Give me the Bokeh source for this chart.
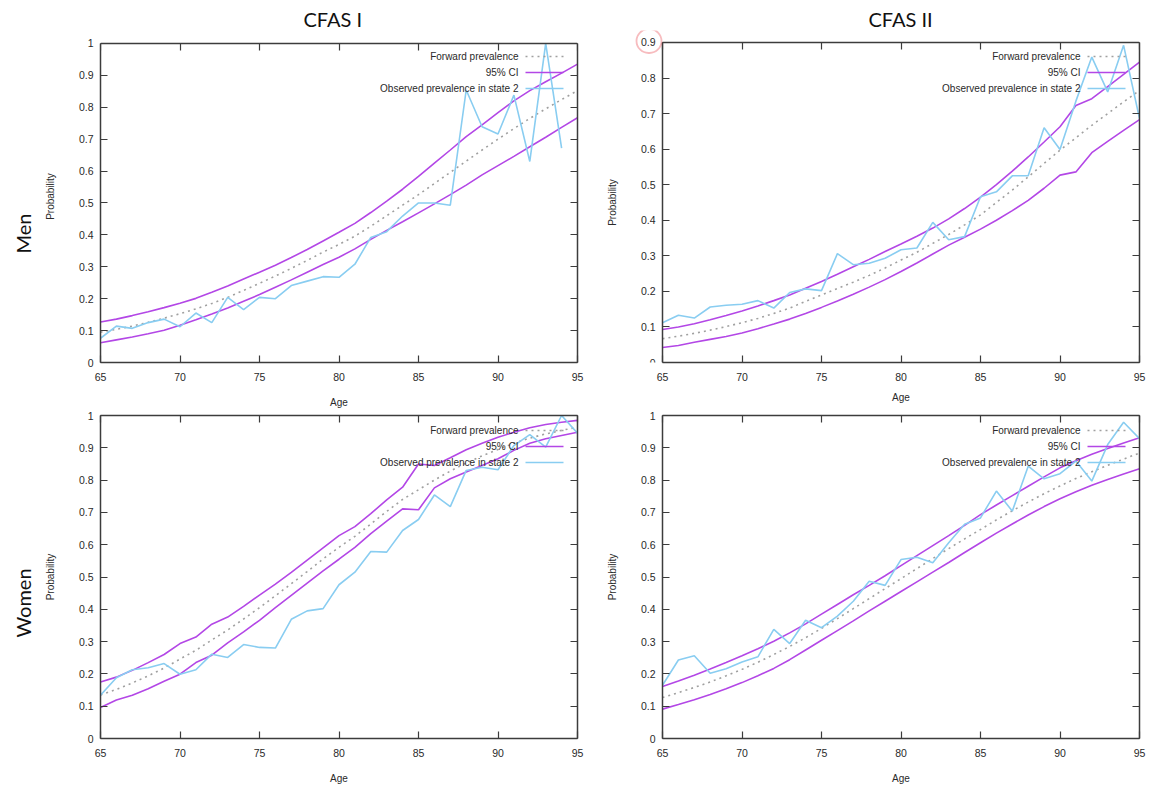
from bokeh.plotting import figure
from bokeh.layouts import column, row
from bokeh.models import (FixedTicker, LinearAxis, Range1d, Label, Arrow, Title,
                          BoxAnnotation, CustomJSTickFormatter)
from bokeh.embed import file_html
from bokeh.resources import INLINE

# ---------------------------------------------------------------- data
ages = [65, 66, 67, 68, 69, 70, 71, 72, 73, 74, 75, 76, 77, 78, 79, 80,
        81, 82, 83, 84, 85, 86, 87, 88, 89, 90, 91, 92, 93, 94, 95]
x_ticks = [65, 70, 75, 80, 85, 90, 95]
y_ticks_to_1 = [0, 0.1, 0.2, 0.3, 0.4, 0.5, 0.6, 0.7, 0.8, 0.9, 1.0]
y_ticks_to_09 = [0, 0.1, 0.2, 0.3, 0.4, 0.5, 0.6, 0.7, 0.8, 0.9]
legend_labels = ["Forward prevalence", "95% CI", "Observed prevalence in state 2"]
column_titles = ["CFAS I", "CFAS II"]
row_titles = ["Men", "Women"]
x_axis_label = "Age"
y_axis_label = "Probability"

# CFAS I, men
cfas1_men_forward = [0.095, 0.104, 0.114, 0.126, 0.139, 0.153, 0.168, 0.185, 0.204, 0.226,
                     0.248, 0.271, 0.295, 0.320, 0.346, 0.370, 0.396, 0.427, 0.460, 0.493,
                     0.526, 0.561, 0.596, 0.631, 0.666, 0.700, 0.733, 0.765, 0.795, 0.824, 0.852]
cfas1_men_upper = [0.127, 0.136, 0.147, 0.159, 0.172, 0.186, 0.201, 0.220, 0.240, 0.262,
                   0.283, 0.305, 0.329, 0.354, 0.381, 0.408, 0.436, 0.470, 0.506, 0.543,
                   0.583, 0.625, 0.666, 0.708, 0.745, 0.783, 0.820, 0.852, 0.880, 0.907, 0.935]
cfas1_men_lower = [0.062, 0.071, 0.080, 0.090, 0.101, 0.117, 0.134, 0.152, 0.171, 0.192,
                   0.213, 0.236, 0.259, 0.283, 0.307, 0.330, 0.356, 0.386, 0.414, 0.441,
                   0.469, 0.497, 0.526, 0.556, 0.588, 0.617, 0.646, 0.676, 0.706, 0.737, 0.767]
cfas1_men_observed = [0.076, 0.114, 0.107, 0.125, 0.136, 0.112, 0.155, 0.125, 0.204, 0.166,
                      0.204, 0.200, 0.241, 0.255, 0.269, 0.267, 0.308, 0.392, 0.410, 0.459,
                      0.500, 0.500, 0.493, 0.854, 0.739, 0.716, 0.838, 0.630, 1.000, 0.672]

# CFAS II, men
cfas2_men_forward = [0.067, 0.074, 0.082, 0.091, 0.101, 0.112, 0.124, 0.138, 0.153, 0.172,
                     0.190, 0.208, 0.226, 0.245, 0.266, 0.288, 0.310, 0.335, 0.360, 0.387,
                     0.415, 0.450, 0.485, 0.522, 0.560, 0.597, 0.632, 0.667, 0.700, 0.733, 0.765]
cfas2_men_upper = [0.093, 0.100, 0.109, 0.120, 0.132, 0.145, 0.159, 0.174, 0.190, 0.209,
                   0.228, 0.248, 0.269, 0.290, 0.312, 0.333, 0.355, 0.378, 0.404, 0.433,
                   0.465, 0.500, 0.538, 0.578, 0.620, 0.663, 0.723, 0.742, 0.776, 0.810, 0.845]
cfas2_men_lower = [0.042, 0.048, 0.057, 0.065, 0.073, 0.083, 0.095, 0.108, 0.122, 0.138,
                   0.155, 0.173, 0.192, 0.212, 0.233, 0.256, 0.280, 0.305, 0.330, 0.352,
                   0.375, 0.400, 0.427, 0.456, 0.490, 0.527, 0.536, 0.590, 0.622, 0.653, 0.683]
cfas2_men_observed = [0.112, 0.133, 0.125, 0.156, 0.161, 0.164, 0.174, 0.153, 0.197, 0.207,
                      0.202, 0.306, 0.275, 0.279, 0.293, 0.317, 0.322, 0.394, 0.345, 0.354,
                      0.466, 0.480, 0.525, 0.525, 0.660, 0.599, 0.735, 0.859, 0.761, 0.892, 0.686]

# CFAS I, women
cfas1_women_forward = [0.135, 0.152, 0.172, 0.194, 0.218, 0.246, 0.273, 0.305, 0.336, 0.370,
                       0.405, 0.442, 0.479, 0.517, 0.556, 0.592, 0.626, 0.664, 0.703, 0.740,
                       0.770, 0.800, 0.828, 0.853, 0.875, 0.895, 0.914, 0.930, 0.943, 0.954, 0.964]
cfas1_women_upper = [0.175, 0.190, 0.211, 0.235, 0.260, 0.294, 0.314, 0.354, 0.376, 0.409,
                     0.444, 0.478, 0.514, 0.552, 0.590, 0.628, 0.656, 0.696, 0.739, 0.778,
                     0.850, 0.845, 0.869, 0.894, 0.914, 0.933, 0.948, 0.962, 0.972, 0.979, 0.985]
cfas1_women_lower = [0.096, 0.119, 0.134, 0.154, 0.177, 0.199, 0.235, 0.258, 0.296, 0.330,
                     0.366, 0.405, 0.443, 0.481, 0.519, 0.555, 0.592, 0.634, 0.673, 0.711,
                     0.708, 0.776, 0.804, 0.825, 0.845, 0.866, 0.892, 0.914, 0.928, 0.938, 0.948]
cfas1_women_observed = [0.134, 0.188, 0.213, 0.219, 0.232, 0.199, 0.213, 0.261, 0.251, 0.291,
                        0.282, 0.280, 0.369, 0.395, 0.402, 0.476, 0.515, 0.579, 0.577, 0.644,
                        0.678, 0.754, 0.718, 0.830, 0.840, 0.832, 0.907, 0.941, 0.902, 1.000, 0.945]

# CFAS II, women
cfas2_women_forward = [0.127, 0.142, 0.158, 0.175, 0.194, 0.214, 0.236, 0.260, 0.285, 0.312,
                       0.341, 0.371, 0.402, 0.433, 0.464, 0.495, 0.526, 0.557, 0.588, 0.618,
                       0.647, 0.677, 0.705, 0.732, 0.758, 0.782, 0.805, 0.826, 0.846, 0.865, 0.884]
cfas2_women_upper = [0.161, 0.178, 0.196, 0.215, 0.235, 0.256, 0.278, 0.301, 0.327, 0.355,
                     0.385, 0.415, 0.445, 0.474, 0.504, 0.535, 0.566, 0.597, 0.628, 0.660,
                     0.693, 0.723, 0.752, 0.781, 0.810, 0.838, 0.860, 0.880, 0.898, 0.915, 0.931]
cfas2_women_lower = [0.091, 0.105, 0.120, 0.136, 0.154, 0.173, 0.194, 0.217, 0.244, 0.274,
                     0.304, 0.334, 0.364, 0.395, 0.425, 0.455, 0.485, 0.515, 0.545, 0.576,
                     0.606, 0.636, 0.664, 0.692, 0.718, 0.742, 0.764, 0.784, 0.802, 0.819, 0.835]
cfas2_women_observed = [0.165, 0.243, 0.256, 0.202, 0.216, 0.237, 0.253, 0.338, 0.294, 0.366,
                        0.343, 0.379, 0.425, 0.487, 0.474, 0.554, 0.561, 0.544, 0.606, 0.663,
                        0.683, 0.766, 0.704, 0.843, 0.804, 0.820, 0.859, 0.797, 0.910, 0.979, 0.928]

# ---------------------------------------------------------------- style
PURPLE = "#b347e6"
BLUE = "#89cdf1"
GREY = "#a0a0a0"
BOX = "#3c3c3c"
TXT = "#2a2a2a"
FONT = "Liberation Sans"
TITLE_FONT = "Lato"
BOX_W = 477          # width of the plotted box in px
X0, X1 = 65, 95


def style_axis(ax, ticks, bounds, show_labels, axis_label=None):
    ax.ticker = FixedTicker(ticks=ticks)
    ax.bounds = bounds
    ax.axis_line_color = BOX
    ax.axis_line_width = 1.5
    ax.major_tick_line_color = BOX
    ax.major_tick_line_width = 1.2
    ax.major_tick_in = 7
    ax.major_tick_out = 0
    ax.minor_tick_line_color = None
    if show_labels:
        ax.major_label_text_font = FONT
        ax.major_label_text_font_size = "10.5px"
        ax.major_label_text_color = TXT
        ax.major_label_standoff = 10
    else:
        ax.formatter = CustomJSTickFormatter(code="return '';")
        ax.major_label_text_color = None
        ax.major_label_text_font_size = "1px"
        ax.major_label_standoff = 0
    if axis_label is not None:
        ax.axis_label = axis_label
        ax.axis_label_text_font = FONT
        ax.axis_label_text_font_size = "10px"
        ax.axis_label_text_font_style = "normal"
        ax.axis_label_text_color = TXT


def make_panel(forward, upper, lower, observed, ymax, yticks, width, height,
               b_left, b_right, b_top, b_bottom, box_h, pad_left=0, pad_top=0,
               title=None, title_offset=None, row_label=None, row_label_offset=0,
               mark_top_tick=False):
    px_per_year = BOX_W / (X1 - X0)
    px_per_unit = box_h / ymax
    x_range = Range1d(X0 - pad_left / px_per_year, X1)
    y_range = Range1d(0, ymax + pad_top / px_per_unit)
    p = figure(width=width, height=height, x_range=x_range, y_range=y_range,
               output_backend="svg", toolbar_location=None,
               min_border_left=b_left, min_border_right=b_right,
               min_border_top=b_top, min_border_bottom=b_bottom)
    p.xgrid.visible = False
    p.ygrid.visible = False
    p.outline_line_color = None
    p.background_fill_color = "white"
    p.border_fill_color = "white"

    # when the frame is widened to the left, the x-axis title is centred on
    # the box by a Title instead of the axis' own (frame-centred) label
    wide = pad_left > 0
    style_axis(p.xaxis[0], x_ticks, (X0, X1), True, None if wide else x_axis_label)
    p.xaxis[0].axis_label_standoff = 13
    style_axis(p.yaxis[0], yticks, (0, ymax), True, y_axis_label)
    p.yaxis[0].formatter = CustomJSTickFormatter(
        code="return (Math.round(tick * 10) / 10).toString();")
    p.yaxis[0].major_label_standoff = 7
    p.yaxis[0].axis_label_standoff = 20
    if wide:
        p.yaxis[0].fixed_location = X0
        p.add_layout(Title(text=x_axis_label, align="left",
                           offset=pad_left + BOX_W / 2 - 9, standoff=12,
                           text_font=FONT, text_font_size="10px",
                           text_font_style="normal", text_color=TXT), "below")

    top_axis = LinearAxis()
    style_axis(top_axis, x_ticks, (X0, X1), False)
    if pad_top > 0:
        top_axis.fixed_location = ymax
    p.add_layout(top_axis, "above")
    right_axis = LinearAxis()
    style_axis(right_axis, yticks, (0, ymax), False)
    p.add_layout(right_axis, "right")

    if title is not None:
        t = Title(text=title, text_font=TITLE_FONT, text_font_size="20px",
                  text_font_style="normal", text_color="#111111", standoff=0)
        if title_offset is None:
            t.align = "center"
        else:
            t.align = "left"
            t.offset = title_offset
        p.add_layout(t, "above")

    p.line(ages, forward, line_color=GREY, line_width=1.6, line_dash="2 4")
    p.line(ages, upper, line_color=PURPLE, line_width=1.6)
    p.line(ages, lower, line_color=PURPLE, line_width=1.6)
    p.line(ages[:len(observed)], observed, line_color=BLUE, line_width=1.6)

    # gnuplot-style key: text right-aligned, sample to its right
    samples = [(GREY, "2 4"), (PURPLE, "solid"), (BLUE, "solid")]
    right_edge = pad_left + BOX_W
    for i, (txt, (col, dash)) in enumerate(zip(legend_labels, samples)):
        yk = box_h - 15 - 16 * i
        p.add_layout(Label(x=right_edge - 59, y=yk, x_units="screen", y_units="screen",
                           text=txt, text_align="right", text_baseline="middle",
                           text_font=FONT, text_font_size="10px", text_color=TXT))
        p.add_layout(Arrow(start=None, end=None, x_start=right_edge - 52, y_start=yk,
                           x_end=right_edge - 14, y_end=yk, start_units="screen",
                           end_units="screen", line_color=col, line_width=1.6,
                           line_dash=dash))

    if row_label is not None:
        p.add_layout(Title(text=row_label, align="left", offset=row_label_offset,
                           standoff=14, text_font=TITLE_FONT, text_font_size="20px",
                           text_font_style="normal", text_color="#111111"), "left")

    if mark_top_tick:
        # red ring drawn around the top tick label
        cx = pad_left - 13.5
        cy = box_h + 0.5
        p.add_layout(BoxAnnotation(left=cx - 12.5, right=cx + 12.5, bottom=cy - 12,
                                   top=cy + 12, left_units="screen",
                                   right_units="screen", bottom_units="screen",
                                   top_units="screen", fill_alpha=0,
                                   line_color="#e4202a", line_width=1.8,
                                   border_radius=12))
    return p


tl = make_panel(cfas1_men_forward, cfas1_men_upper, cfas1_men_lower, cfas1_men_observed,
                1.0, y_ticks_to_1, 600, 410, 100, 23, 30, 46, 321, pad_top=13,
                title=column_titles[0], title_offset=203,
                row_label=row_titles[0], row_label_offset=109)
tr = make_panel(cfas2_men_forward, cfas2_men_upper, cfas2_men_lower, cfas2_men_observed,
                0.9, y_ticks_to_09, 550, 410, 0, 11, 30, 47, 321, pad_left=62, pad_top=12,
                title=column_titles[1], title_offset=268, mark_top_tick=True)
bl = make_panel(cfas1_women_forward, cfas1_women_upper, cfas1_women_lower,
                cfas1_women_observed, 1.0, y_ticks_to_1, 600, 379, 100, 23, 5, 51, 323,
                row_label=row_titles[1], row_label_offset=101)
br = make_panel(cfas2_women_forward, cfas2_women_upper, cfas2_women_lower,
                cfas2_women_observed, 1.0, y_ticks_to_1, 550, 379, 62, 11, 5, 51, 323)

layout = column(row(tl, tr), row(bl, br))
open("out.html", "w").write(file_html(layout, INLINE))
